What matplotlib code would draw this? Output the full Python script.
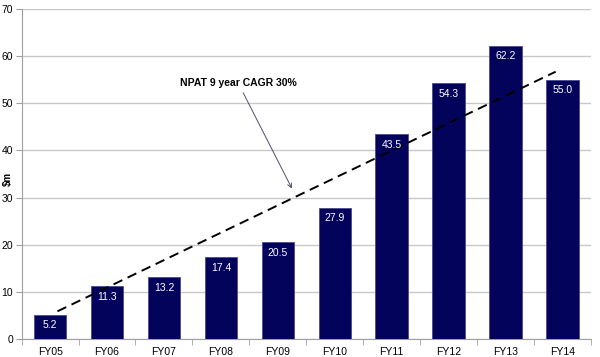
import matplotlib.pyplot as plt
import numpy as np

years = ['FY05', 'FY06', 'FY07', 'FY08', 'FY09', 'FY10', 'FY11', 'FY12', 'FY13', 'FY14']
npat = [5.2, 11.3, 13.2, 17.4, 20.5, 27.9, 43.5, 54.3, 62.2, 55.0]
trend_x = [0.13, 8.88]
trend_y = [5.9, 56.7]

fig = plt.figure(figsize=(6, 3.57), dpi=100)
ax = fig.add_axes([0.036, 0.05, 0.949, 0.925])

x = np.arange(len(years))
bars = ax.bar(x, npat, width=0.57, color='#03035c', edgecolor='#4a4a90', linewidth=0.6, zorder=3)
for xi, v in zip(x, npat):
    ax.text(xi, v - 1.2, f'{v:.1f}', ha='center', va='top', color='white', fontsize=7.5,
            family='Liberation Sans', zorder=5)

ax.plot(trend_x, trend_y, color='black', linestyle=(0, (5, 3)), linewidth=1.4, zorder=4)

ax.annotate('NPAT 9 year CAGR 30%', xy=(4.27, 31.4), xytext=(3.3, 54.4),
            ha='center', va='center', fontsize=7.5, fontweight='bold', family='Liberation Sans',
            arrowprops=dict(arrowstyle='->', color='#4a5068', lw=0.7))

ax.set_xlim(-0.5, 9.5)
ax.set_ylim(0, 70)
ax.set_yticks(range(0, 71, 10))
ax.set_xticks(x)
ax.set_xticklabels(years)
ax.set_xticks(np.arange(-0.5, 10, 1), minor=True)
ax.tick_params(axis='x', which='major', length=0, pad=6)
ax.tick_params(axis='x', which='minor', length=4, color='#a0a0a0')
ax.tick_params(axis='y', length=4, color='#a0a0a0', pad=2)
for lab in ax.get_xticklabels() + ax.get_yticklabels():
    lab.set_fontsize(7.5)
    lab.set_family('Liberation Sans')
ax.grid(axis='y', color='#c8c8c8', linewidth=1.0, zorder=0)
for s in ['top', 'right']:
    ax.spines[s].set_visible(False)
ax.spines['left'].set_color('#a0a0a0')
ax.spines['bottom'].set_color('#a0a0a0')
fig.text(0.004, 0.5, '$m', rotation=90, ha='left', va='center', fontsize=7,
         fontweight='bold', family='Liberation Sans')

fig.savefig('out.png', dpi=100)
